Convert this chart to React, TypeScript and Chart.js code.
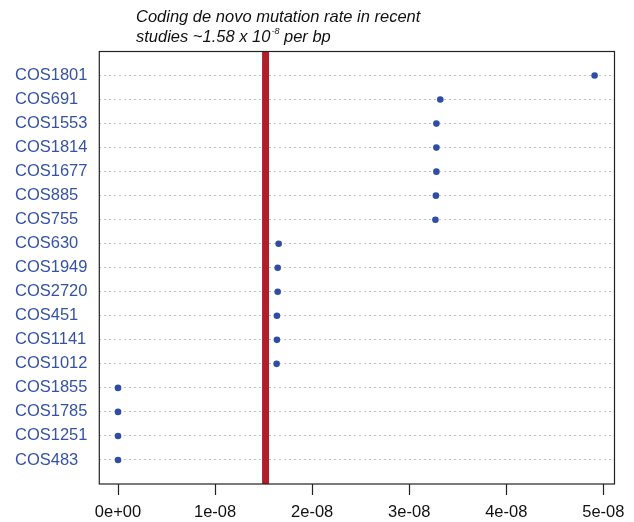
import React, { useEffect, useRef } from "react";
import { Chart, registerables } from "chart.js";

Chart.register(...registerables);

const categories = [
  "COS1801", "COS691", "COS1553", "COS1814", "COS1677", "COS885", "COS755",
  "COS630", "COS1949", "COS2720", "COS451", "COS1141", "COS1012",
  "COS1855", "COS1785", "COS1251", "COS483",
];
const rates = [
  4.91e-8, 3.32e-8, 3.28e-8, 3.28e-8, 3.28e-8, 3.275e-8, 3.27e-8,
  1.655e-8, 1.645e-8, 1.645e-8, 1.637e-8, 1.637e-8, 1.634e-8,
  0, 0, 0, 0,
];
const referenceRate = 1.52e-8;
const xTicks = [0, 1e-8, 2e-8, 3e-8, 4e-8, 5e-8];
const xTickLabels = ["0e+00", "1e-08", "2e-08", "3e-08", "4e-08", "5e-08"];
const captionLine1 = "Coding de novo mutation rate in recent";
const captionLine2 = ["studies ~1.58 x 10", "-8", " per bp"];

const FONT = "'Liberation Sans', Arial, Helvetica, sans-serif";

export default function App() {
  const ref = useRef<HTMLCanvasElement | null>(null);

  useEffect(() => {
    document.body.style.margin = "0";
    const canvas = ref.current;
    if (!canvas) return;
    const n = categories.length;
    const points = rates.map((v, i) => ({ x: v, y: n - i }));

    const boxPlugin = {
      id: "boxAndCaption",
      afterDatasetsDraw(chart: any) {
        const { ctx, chartArea } = chart;
        ctx.save();
        ctx.strokeStyle = "#222";
        ctx.lineWidth = 1.2;
        ctx.strokeRect(chartArea.left, chartArea.top, chartArea.right - chartArea.left, chartArea.bottom - chartArea.top);
        ctx.restore();
      },
      afterDraw(chart: any) {
        const ctx = chart.ctx;
        ctx.save();
        ctx.fillStyle = "#111";
        ctx.textBaseline = "alphabetic";
        ctx.textAlign = "left";
        ctx.font = `italic 16.5px ${FONT}`;
        const x0 = 136;
        ctx.fillText(captionLine1, x0, 21.7);
        let x = x0;
        ctx.fillText(captionLine2[0], x, 41.7);
        x += ctx.measureText(captionLine2[0]).width + 1;
        ctx.font = `italic 9px ${FONT}`;
        ctx.fillText(captionLine2[1], x, 34);
        x += ctx.measureText(captionLine2[1]).width;
        ctx.font = `italic 16.5px ${FONT}`;
        ctx.fillText(captionLine2[2], x, 41.7);
        ctx.restore();
      },
    };

    const chart = new Chart(canvas, {
      type: "scatter",
      data: {
        datasets: [
          {
            label: "rates",
            data: points,
            backgroundColor: "#2f4ea3",
            borderColor: "#2f4ea3",
            pointRadius: 3.3,
            pointBorderWidth: 0,
          },
          {
            label: "reference",
            data: [
              { x: referenceRate, y: 0 },
              { x: referenceRate, y: n + 1 },
            ],
            showLine: true,
            borderColor: "#b0202a",
            borderWidth: 7,
            pointRadius: 0,
          },
        ],
      },
      options: {
        responsive: false,
        animation: false,
        layout: { padding: { top: 51.5, right: 19.5, left: 15, bottom: 0 } },
        plugins: { legend: { display: false }, tooltip: { enabled: false } },
        scales: {
          x: {
            type: "linear",
            min: -1.93e-9,
            max: 5.115e-8,
            afterBuildTicks: (scale: any) => {
              scale.ticks = xTicks.map((v) => ({ value: v }));
            },
            afterFit: (scale: any) => {
              scale.height = 38;
            },
            ticks: {
              autoSkip: false,
              maxRotation: 0,
              color: "#111",
              font: { family: FONT, size: 16.5 },
              padding: 8,
              callback: (_v: any, i: number) => xTickLabels[i],
            },
            grid: {
              drawOnChartArea: false,
              drawTicks: true,
              tickLength: 11,
              tickColor: "#222",
              tickWidth: 1.2,
            },
            border: { display: false },
          },
          y: {
            type: "linear",
            min: 0,
            max: n + 1,
            afterBuildTicks: (scale: any) => {
              scale.ticks = categories.map((_c, i) => ({ value: n - i }));
            },
            afterFit: (scale: any) => {
              scale.width = 84.3;
            },
            ticks: {
              autoSkip: false,
              crossAlign: "far",
              padding: 0,
              color: "#3552a6",
              font: { family: FONT, size: 16.5 },
              callback: (v: any) => categories[n - Number(v)],
            },
            grid: {
              color: "#c4c4c4",
              lineWidth: 1,
              drawTicks: false,
            },
            border: { display: false, dash: [2, 3] },
          },
        },
      },
      plugins: [boxPlugin],
    } as any);

    return () => chart.destroy();
  }, []);

  return (
    <div style={{ width: 634, height: 522 }}>
      <canvas ref={ref} width={634} height={522} style={{ display: "block" }} />
    </div>
  );
}
